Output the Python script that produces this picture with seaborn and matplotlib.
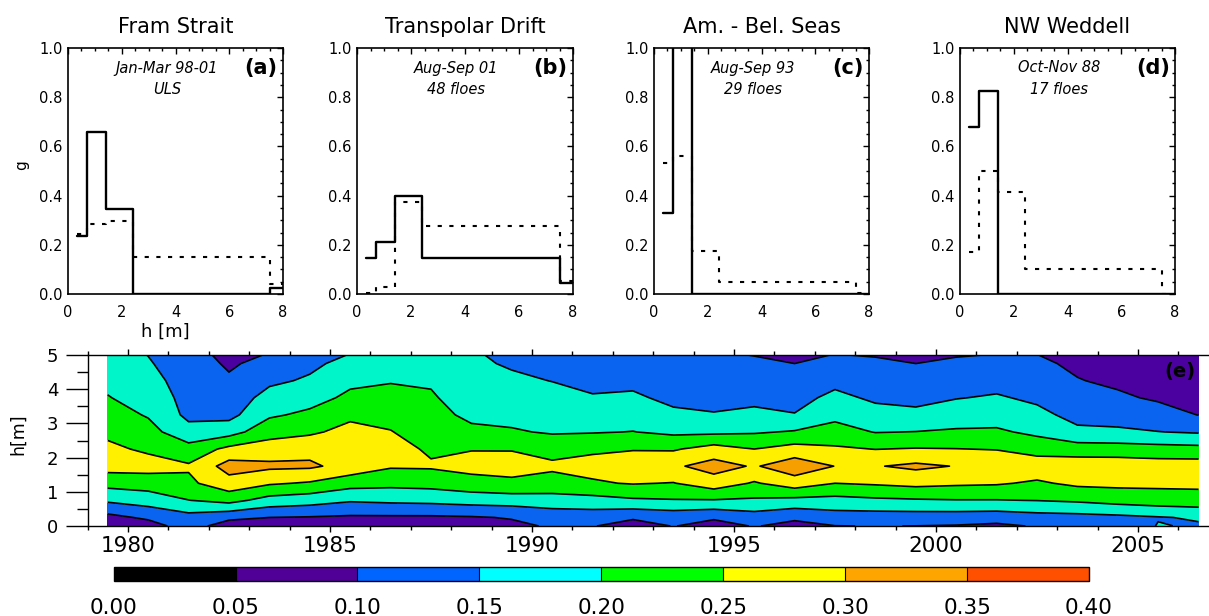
import numpy as np
import pandas as pd
import matplotlib
matplotlib.use("Agg")
import matplotlib.pyplot as plt
import seaborn as sns
from matplotlib.colors import ListedColormap, BoundaryNorm
from matplotlib.colorbar import ColorbarBase
from matplotlib.ticker import MultipleLocator, FixedLocator, FormatStrFormatter

# ---------------- data: panels (a)-(d) ----------------
bin_edges = [0.35, 0.7, 1.4, 2.4, 7.5, 8.0]
panel_titles = ["Fram Strait", "Transpolar Drift", "Am. - Bel. Seas", "NW Weddell"]
panel_tags = ["(a)", "(b)", "(c)", "(d)"]
panel_note1 = ["Jan-Mar 98-01", "Aug-Sep 01", "Aug-Sep 93", "Oct-Nov 88"]
panel_note2 = ["ULS", "48 floes", "29 floes", "17 floes"]

fram_solid = [0.235, 0.66, 0.345, 0.0, 0.025]
fram_dotted = [0.245, 0.285, 0.295, 0.15, 0.04]
tpd_solid = [0.148, 0.213, 0.40, 0.148, 0.044]
tpd_dotted = [0.003, 0.028, 0.374, 0.277, 0.052]
abs_solid = [0.33, 1.27, 0.0, 0.0, 0.0]
abs_dotted = [0.533, 0.56, 0.176, 0.05, 0.003]
nww_solid = [0.677, 0.825, 0.0, 0.0, 0.0]
nww_dotted = [0.172, 0.50, 0.413, 0.10, 0.0]

solid_sets = [fram_solid, tpd_solid, abs_solid, nww_solid]
dotted_sets = [fram_dotted, tpd_dotted, abs_dotted, nww_dotted]

# ---------------- data: panel (e) ----------------
years = [1979.5, 1980.5, 1981.5, 1982.5, 1983.5, 1984.5, 1985.5, 1986.5,
         1987.5, 1988.5, 1989.5, 1990.5, 1991.5, 1992.5, 1993.5, 1994.5,
         1995.5, 1996.5, 1997.5, 1998.5, 1999.5, 2000.5, 2001.5, 2002.5,
         2003.5, 2004.5, 2005.5, 2006.5]
h_grid = [0.0, 0.25, 0.75, 1.25, 1.75, 2.25, 2.75, 3.25, 3.75, 4.25, 4.75, 5.0]
# g(h) for each year (one row per year, values at h_grid)
g_by_year = [
    [0.070, 0.085, 0.158, 0.217, 0.270, 0.260, 0.240, 0.220, 0.202, 0.190, 0.180, 0.175],
    [0.077, 0.109, 0.173, 0.223, 0.270, 0.242, 0.217, 0.196, 0.182, 0.169, 0.155, 0.149],
    [0.125, 0.132, 0.199, 0.240, 0.256, 0.218, 0.168, 0.138, 0.132, 0.125, 0.118, 0.114],
    [0.072, 0.113, 0.216, 0.281, 0.320, 0.263, 0.180, 0.135, 0.122, 0.105, 0.095, 0.090],
    [0.080, 0.100, 0.181, 0.256, 0.310, 0.274, 0.231, 0.193, 0.167, 0.141, 0.112, 0.102],
    [0.080, 0.097, 0.171, 0.245, 0.308, 0.285, 0.242, 0.210, 0.182, 0.156, 0.140, 0.130],
    [0.075, 0.093, 0.155, 0.220, 0.283, 0.280, 0.265, 0.240, 0.210, 0.190, 0.165, 0.152],
    [0.075, 0.093, 0.160, 0.214, 0.255, 0.270, 0.252, 0.235, 0.215, 0.197, 0.180, 0.173],
    [0.075, 0.093, 0.163, 0.218, 0.256, 0.242, 0.226, 0.215, 0.205, 0.195, 0.180, 0.175],
    [0.078, 0.096, 0.170, 0.232, 0.266, 0.248, 0.210, 0.190, 0.178, 0.168, 0.158, 0.153],
    [0.090, 0.103, 0.173, 0.242, 0.265, 0.248, 0.205, 0.185, 0.170, 0.158, 0.145, 0.144],
    [0.105, 0.120, 0.178, 0.233, 0.258, 0.235, 0.195, 0.178, 0.165, 0.149, 0.135, 0.128],
    [0.103, 0.122, 0.182, 0.245, 0.265, 0.243, 0.197, 0.175, 0.153, 0.140, 0.128, 0.123],
    [0.075, 0.108, 0.193, 0.253, 0.270, 0.248, 0.201, 0.180, 0.158, 0.138, 0.115, 0.108],
    [0.102, 0.118, 0.197, 0.248, 0.292, 0.245, 0.190, 0.160, 0.138, 0.120, 0.110, 0.105],
    [0.080, 0.107, 0.197, 0.277, 0.320, 0.270, 0.190, 0.152, 0.140, 0.125, 0.110, 0.105],
    [0.103, 0.127, 0.193, 0.245, 0.295, 0.250, 0.195, 0.160, 0.139, 0.123, 0.107, 0.099],
    [0.085, 0.109, 0.186, 0.276, 0.330, 0.269, 0.204, 0.152, 0.134, 0.117, 0.100, 0.093],
    [0.099, 0.126, 0.184, 0.250, 0.299, 0.257, 0.219, 0.187, 0.162, 0.137, 0.113, 0.101],
    [0.101, 0.126, 0.191, 0.256, 0.297, 0.249, 0.198, 0.167, 0.142, 0.124, 0.106, 0.098],
    [0.0995, 0.126, 0.195, 0.264, 0.310, 0.253, 0.201, 0.161, 0.137, 0.119, 0.100, 0.094],
    [0.097, 0.125, 0.198, 0.258, 0.298, 0.251, 0.206, 0.175, 0.148, 0.127, 0.106, 0.098],
    [0.090, 0.122, 0.198, 0.255, 0.285, 0.248, 0.207, 0.179, 0.155, 0.133, 0.112, 0.101],
    [0.104, 0.131, 0.201, 0.243, 0.280, 0.229, 0.190, 0.163, 0.141, 0.125, 0.108, 0.1005],
    [0.105, 0.134, 0.207, 0.260, 0.280, 0.224, 0.160, 0.135, 0.120, 0.102, 0.092, 0.088],
    [0.110, 0.139, 0.218, 0.262, 0.280, 0.222, 0.158, 0.130, 0.107, 0.092, 0.081, 0.075],
    [0.153, 0.147, 0.226, 0.261, 0.275, 0.218, 0.151, 0.119, 0.094, 0.081, 0.067, 0.060],
    [0.145, 0.155, 0.230, 0.261, 0.275, 0.215, 0.145, 0.099, 0.090, 0.080, 0.068, 0.062],
]
levels = [0.00, 0.05, 0.10, 0.15, 0.20, 0.25, 0.30, 0.35, 0.40]
level_labels = ["0.00", "0.05", "0.10", "0.15", "0.20", "0.25", "0.30", "0.35", "0.40"]
year_ticks = [1980, 1985, 1990, 1995, 2000, 2005]
h_ticks = [0, 1, 2, 3, 4, 5]

fill_colors = ["#000000", "#4b00a0", "#0a64f0", "#00f5c8", "#00f000",
               "#fff000", "#f5a000", "#ff5000"]
bar_colors = ["#000000", "#500096", "#0064ff", "#00ffff", "#00ff00",
              "#ffff00", "#ffa500", "#ff5000"]

# ---------------- figure ----------------
sns.set_theme(style="white")
plt.rcParams["font.family"] = ["DejaVu Sans"]
plt.rcParams["axes.edgecolor"] = "black"
plt.rcParams["xtick.color"] = "black"
plt.rcParams["ytick.color"] = "black"
plt.rcParams["xtick.labelcolor"] = "black"
plt.rcParams["ytick.labelcolor"] = "black"
plt.rcParams["text.color"] = "black"
plt.rcParams["axes.labelcolor"] = "black"
plt.rcParams["axes.titlecolor"] = "black"

W, H = 1209, 616
fig = plt.figure(figsize=(W / 100, H / 100), dpi=100)
fig.patch.set_facecolor("white")


def px_axes(x0, y0, x1, y1):
    return fig.add_axes([x0 / W, 1 - y1 / H, (x1 - x0) / W, (y1 - y0) / H])


top_boxes = [(68, 48, 283, 294), (357, 48, 573, 294), (654, 48, 869, 294), (960, 48, 1175, 294)]

for i, box in enumerate(top_boxes):
    ax = px_axes(*box)
    ax.set_facecolor("white")
    solid = solid_sets[i]
    dotted = dotted_sets[i]
    df_s = pd.DataFrame({"h": bin_edges, "g": solid + [solid[-1]]})
    df_d = pd.DataFrame({"h": bin_edges, "g": dotted + [dotted[-1]]})
    sns.lineplot(data=df_d, x="h", y="g", ax=ax, color="black", lw=1.5,
                 drawstyle="steps-post", linestyle=(0, (2.0, 3.6)),
                 estimator=None, sort=False)
    sns.lineplot(data=df_s, x="h", y="g", ax=ax, color="black", lw=1.7,
                 drawstyle="steps-post", estimator=None, sort=False)
    ax.set_xlim(0, 8)
    ax.set_ylim(0, 1.0)
    ax.xaxis.set_major_locator(MultipleLocator(2))
    ax.xaxis.set_minor_locator(MultipleLocator(0.5))
    ax.yaxis.set_major_locator(MultipleLocator(0.2))
    ax.yaxis.set_minor_locator(MultipleLocator(0.05))
    ax.yaxis.set_major_formatter(FormatStrFormatter("%.1f"))
    ax.tick_params(which="both", direction="in", top=True, right=True,
                   labelsize=10.5, width=1.0)
    ax.tick_params(which="major", length=4)
    ax.tick_params(which="minor", length=2)
    ax.tick_params(axis="x", pad=8)
    ax.tick_params(axis="y", pad=4)
    for sp in ax.spines.values():
        sp.set_linewidth(1.2)
        sp.set_color("black")
    ax.set_xlabel("")
    ax.set_ylabel("")
    ax.set_title(panel_titles[i], fontsize=15, pad=11, color="black")
    ax.text(0.46, (294 - 68) / 246, panel_note1[i], transform=ax.transAxes,
            ha="center", va="center", style="italic", fontsize=10.5, color="black")
    ax.text(0.46, (294 - 89) / 246, panel_note2[i], transform=ax.transAxes,
            ha="center", va="center", style="italic", fontsize=10.5, color="black")
    ax.text(0.975, (294 - 68) / 246, panel_tags[i], transform=ax.transAxes,
            ha="right", va="center", fontweight="bold", fontsize=15, color="black")

fig.text(22 / W, 1 - 165 / H, "g", rotation=90, ha="center", va="center",
         fontsize=11, color="black")
fig.text(165 / W, 1 - 332 / H, "h [m]", ha="center", va="center", fontsize=13, color="black")

# ---------------- panel (e) ----------------
axe = px_axes(87.6, 355, 1218.8, 526)
Z = np.array(g_by_year).T
axe.contourf(years, h_grid, Z, levels=levels, colors=fill_colors)
axe.contour(years, h_grid, Z, levels=levels[1:-1], colors="black", linewidths=1.2)
axe.set_xlim(1979, 2007)
axe.set_ylim(0, 5)
axe.xaxis.set_major_locator(FixedLocator(year_ticks))
axe.xaxis.set_minor_locator(MultipleLocator(1))
axe.yaxis.set_major_locator(FixedLocator(h_ticks))
axe.yaxis.set_minor_locator(MultipleLocator(0.5))
axe.tick_params(axis="x", which="both", direction="out", top=True, bottom=True,
                labelsize=15.5, pad=3, width=1.0)
axe.tick_params(axis="x", which="major", length=4.5)
axe.tick_params(axis="x", which="minor", length=3)
axe.tick_params(axis="y", which="both", direction="out", left=True, right=False,
                labelsize=13, pad=5, width=1.0)
axe.tick_params(axis="y", which="major", length=16)
axe.tick_params(axis="y", which="minor", length=8)
axe.spines["right"].set_visible(False)
for k in ["left", "top", "bottom"]:
    axe.spines[k].set_linewidth(1.0)
    axe.spines[k].set_color("black")
fig.text(18 / W, 1 - 434 / H, "h[m]", rotation=90, ha="center", va="center",
         fontsize=12.5, color="black")
fig.text(1196 / W, 1 - 372 / H, "(e)", ha="right", va="center", fontweight="bold",
         fontsize=14, color="black")

# ---------------- colorbar ----------------
cax = px_axes(113.6, 567, 1089, 581)
cb = ColorbarBase(cax, cmap=ListedColormap(bar_colors), norm=BoundaryNorm(levels, 8),
                  orientation="horizontal", ticks=levels, drawedges=True)
cb.outline.set_linewidth(1.0)
cb.dividers.set_linewidth(0.8)
cb.ax.set_xticklabels(level_labels)
cb.ax.tick_params(length=0, labelsize=15.5, pad=12, labelcolor="black")

fig.savefig("out.png", dpi=100, facecolor="white")
